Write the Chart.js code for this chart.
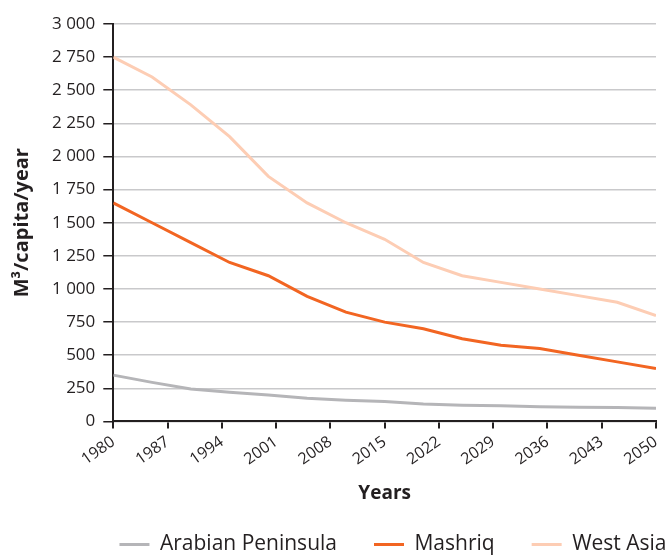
<!DOCTYPE html>
<html>
<head>
<meta charset="utf-8">
<script src="https://cdn.jsdelivr.net/npm/chart.js@4"></script>
<style>
  html, body { margin: 0; padding: 0; background: #fff; }
  #wrap { width: 665px; height: 555px; }
</style>
</head>
<body>
<div id="wrap"><canvas id="chart" width="665" height="555"></canvas></div>
<script>
// données
const years = [1980, 1985, 1990, 1995, 2000, 2005, 2010, 2015, 2020, 2025, 2030, 2035, 2040, 2045, 2050];
const arabianPeninsula = [350, 295, 245, 220, 200, 175, 160, 150, 132, 122, 118, 112, 108, 105, 100];
const mashriq = [1650, 1500, 1350, 1200, 1100, 945, 825, 750, 700, 625, 575, 550, 500, 450, 400];
const westAsia = [2750, 2600, 2390, 2150, 1850, 1650, 1500, 1375, 1200, 1100, 1050, 1000, 950, 900, 800];
const xTicks = [1980, 1987, 1994, 2001, 2008, 2015, 2022, 2029, 2036, 2043, 2050];

const toPoints = (vals) => vals.map((v, i) => ({ x: years[i], y: v }));
const spaced = (v) => String(v).replace(/\B(?=(\d{3})+(?!\d))/g, ' ');

const ink = '#231f20';
const font = 'Open Sans';

// la légende de l'original est décalée vers la droite (et un peu vers le haut)
const shiftLegend = {
  id: 'shiftLegend',
  afterLayout(chart) {
    const lg = chart.legend;
    lg.left += 60;
    lg.right += 60;
    lg.top -= 8;
    lg.bottom -= 8;
  }
};

new Chart(document.getElementById('chart').getContext('2d'), {
  type: 'line',
  data: {
    datasets: [
      { label: 'Arabian Peninsula', data: toPoints(arabianPeninsula), borderColor: '#b5b5b8', backgroundColor: '#b5b5b8', borderWidth: 3, pointRadius: 0 },
      { label: 'Mashriq', data: toPoints(mashriq), borderColor: '#f26522', backgroundColor: '#f26522', borderWidth: 3, pointRadius: 0 },
      { label: 'West Asia', data: toPoints(westAsia), borderColor: '#fdcdb4', backgroundColor: '#fdcdb4', borderWidth: 3, pointRadius: 0 }
    ]
  },
  options: {
    responsive: false,
    animation: false,
    layout: { padding: { left: 10, right: 9, top: 24, bottom: -18 } },
    plugins: {
      tooltip: { enabled: false },
      legend: {
        position: 'bottom',
        labels: {
          usePointStyle: true,
          pointStyle: 'line',
          pointStyleWidth: 30,
          padding: 37,
          color: ink,
          font: { family: font, size: 21 }
        }
      }
    },
    scales: {
      x: {
        type: 'linear',
        min: 1980,
        max: 2050,
        afterBuildTicks: (axis) => { axis.ticks = xTicks.map(v => ({ value: v })); },
        afterFit: (axis) => { axis.paddingRight = 0; },
        ticks: {
          color: ink,
          font: { family: font, size: 16 },
          minRotation: 35,
          maxRotation: 35,
          padding: 4,
          callback: (v) => String(v)
        },
        grid: { drawOnChartArea: false, drawTicks: true, tickLength: 7, tickColor: ink, lineWidth: 2 },
        border: { color: ink, width: 2 },
        title: { display: true, text: 'Years', color: ink, font: { family: font, size: 19, weight: 'bold' }, padding: { top: 9, bottom: 0 } }
      },
      y: {
        min: 0,
        max: 3000,
        ticks: {
          stepSize: 250,
          color: ink,
          font: { family: font, size: 17 },
          padding: 8,
          callback: (v) => spaced(v)
        },
        grid: { color: '#c9c9cb', lineWidth: 1.5, tickLength: 10, tickColor: ink },
        border: { color: ink, width: 2 },
        title: { display: true, text: 'M³/capita/year', color: ink, font: { family: font, size: 20, weight: 'bold' }, padding: { top: 0, bottom: 10 } }
      }
    }
  },
  plugins: [shiftLegend]
});
</script>
</body>
</html>
